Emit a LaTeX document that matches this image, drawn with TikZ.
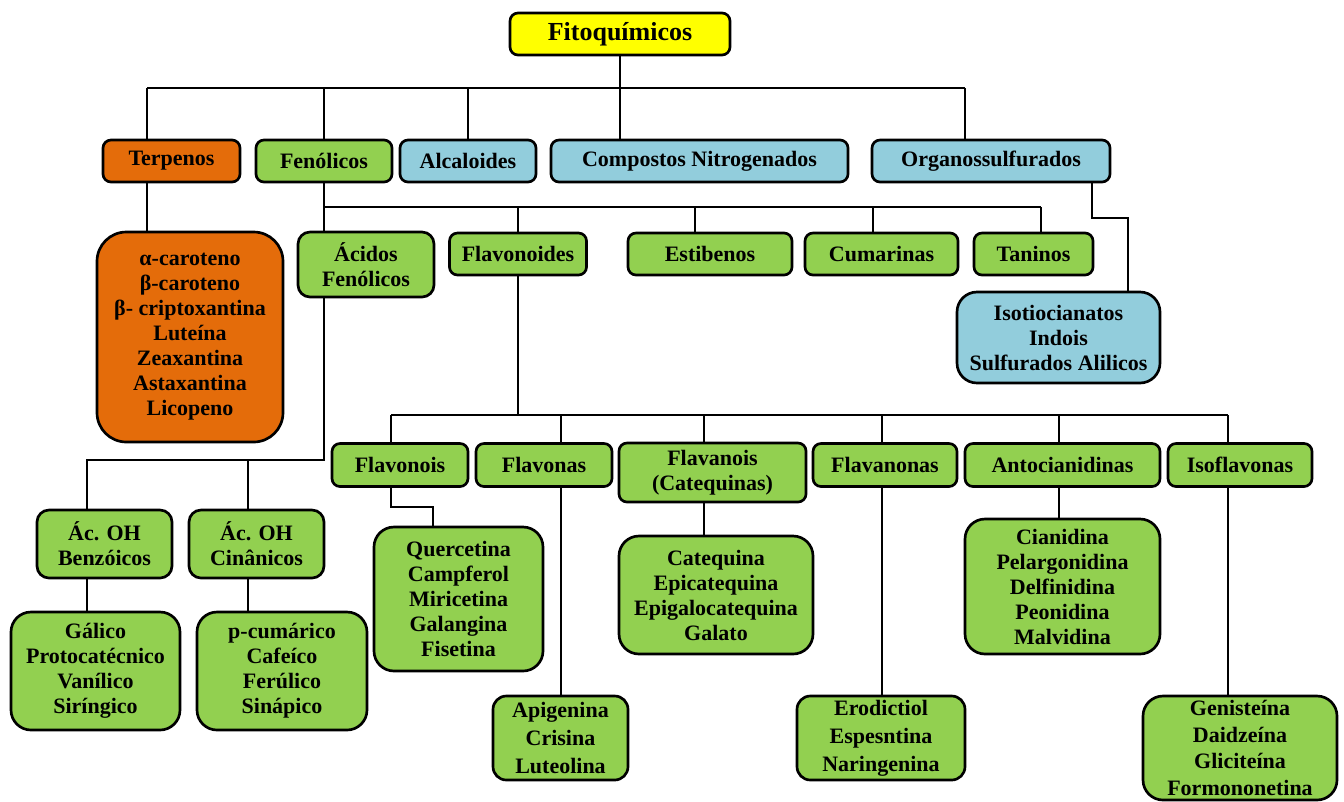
\documentclass[tikz,border=0pt]{standalone}
\usepackage{fontspec}
\setmainfont{Liberation Serif}
\definecolor{cyel}{HTML}{FFFF00}
\definecolor{corg}{HTML}{E46C0A}
\definecolor{cgrn}{HTML}{92D050}
\definecolor{cblu}{HTML}{92CDDC}
\begin{document}
\begin{tikzpicture}[x=0.75pt,y=-0.75pt,line width=2pt,
  box/.style={draw,rounded corners=6pt,align=center,inner sep=1pt,
    font=\fontsize{16.5}{18.75}\selectfont\bfseries},
  lst/.style={box,rounded corners=15pt},
  tall/.style={box,rounded corners=10pt,font=\fontsize{16.5}{21}\selectfont\bfseries},
  sz/.style 2 args={minimum width=#1*0.75pt,minimum height=#2*0.75pt}]
\useasboundingbox (0,0) rectangle (1344,801);
% level 0 and 1
\node[box,sz={220}{42},fill=cyel,font=\fontsize{19.5}{22}\selectfont\bfseries](root)at(620,34){Fitoquímicos};
\node[box,sz={137}{42},fill=corg](terp)at(171.5,161){Terpenos};
\node[box,sz={136}{42},fill=cgrn](fen)at(324,161){Fenólicos};
\node[box,sz={136}{42},fill=cblu](alc)at(468,161){Alcaloides};
\node[box,sz={297}{42},fill=cblu](comp)at(699.5,161){Compostos Nitrogenados};
\node[box,sz={238}{42},fill=cblu](org)at(991,161){Organossulfurados};
% level 2
\node[lst,rounded corners=22pt,sz={186}{210},fill=corg](carot)at(190,337)
  {α-caroteno\\β-caroteno\\β- criptoxantina\\Luteína\\Zeaxantina\\Astaxantina\\Licopeno};
\node[box,rounded corners=9pt,sz={136}{65},fill=cgrn](acid)at(366,264.5){Ácidos\\Fenólicos};
\node[box,sz={137}{42},fill=cgrn](flavd)at(518,254){Flavonoides};
\node[box,sz={164}{42},fill=cgrn](estib)at(710,254){Estibenos};
\node[box,sz={153}{42},fill=cgrn](cum)at(881.5,254){Cumarinas};
\node[box,sz={119}{42},fill=cgrn](tan)at(1033.5,254){Taninos};
\node[lst,sz={203}{91},fill=cblu](isot)at(1058.5,337.5){Isotiocianatos\\Indois\\Sulfurados Alilicos};
% flavonoides
\node[box,sz={136}{43},fill=cgrn](flvnl)at(400,465){Flavonois};
\node[box,sz={136}{43},fill=cgrn](flvna)at(544,465){Flavonas};
\node[box,sz={187}{59},fill=cgrn](flvnoi)at(712.5,472.5){Flavanois\\(Catequinas)};
\node[box,sz={144}{43},fill=cgrn](flvnon)at(885,465){Flavanonas};
\node[box,sz={195}{43},fill=cgrn](anto)at(1062.5,465){Antocianidinas};
\node[box,sz={144}{43},fill=cgrn](iso)at(1240,465){Isoflavonas};
\node[lst,sz={169}{144},fill=cgrn](querc)at(458.5,599){Quercetina\\Campferol\\Miricetina\\Galangina\\Fisetina};
\node[tall,sz={135}{84},fill=cgrn](apig)at(560.5,738){Apigenina\\Crisina\\Luteolina};
\node[lst,sz={194}{118},fill=cgrn](cateq)at(716,595){Catequina\\Epicatequina\\Epigalocatequina\\Galato};
\node[tall,sz={168}{84},fill=cgrn](erod)at(881,738){Erodictiol\\Espesntina\\Naringenina};
\node[lst,sz={195}{135},fill=cgrn](cian)at(1062.5,586.5){Cianidina\\Pelargonidina\\Delfinidina\\Peonidina\\Malvidina};
\node[tall,rounded corners=15pt,sz={194}{104},fill=cgrn,font=\fontsize{16.5}{20}\selectfont\bfseries](genis)at(1240,748){Genisteína\\Daidzeína\\Gliciteína\\Formononetina};
% acidos fenolicos
\node[box,rounded corners=9pt,sz={135}{68},fill=cgrn](benz)at(104.5,544){Ác. OH\\Benzóicos};
\node[box,rounded corners=9pt,sz={135}{68},fill=cgrn](cinn)at(256.5,544){Ác. OH\\Cinânicos};
\node[lst,sz={169}{118},fill=cgrn](galic)at(95.5,671){Gálico\\Protocatécnico\\Vanílico\\Siríngico};
\node[lst,sz={170}{118},fill=cgrn](pcum)at(282,671){p-cumárico\\Cafeíco\\Ferúlico\\Sinápico};
% junctions
\coordinate(j1)at(147,88);\coordinate(j5)at(965,88);
\coordinate(k2)at(695,207);\coordinate(k3)at(873,207);\coordinate(k4)at(1041,207);
\coordinate(o1)at(1092,218);\coordinate(o2)at(1128,218);
\coordinate(m1)at(391,415);\coordinate(m2)at(561,415);\coordinate(m3)at(704,415);
\coordinate(m4)at(882,415);\coordinate(m5)at(1059,415);\coordinate(m6)at(1228,415);
\coordinate(q1)at(391,507);\coordinate(q2)at(433,507);
\coordinate(a1)at(87,460);\coordinate(a2)at(248,460);
% connectors
\draw(j1)--(j5);
\draw(root.south)--(root.south|-comp.north);
\draw(j1)--(j1|-terp.north);
\draw(terp.south-|j1)--(j1|-carot.north);
\draw(fen.north)--(fen.north|-j1);
\draw(alc.north)--(alc.north|-j1);
\draw(j5)--(j5|-org.north);
\draw(org.south-|o1)--(o1)--(o2)--(o2|-isot.north);
\draw(fen.south)--(fen.south|-acid.north);
\draw(fen.south|-k4)--(k4);
\draw(flavd.north)--(flavd.north|-k4);
\foreach \c/\n in {k2/estib,k3/cum,k4/tan} \draw(\c)--(\c|-\n.north);
\draw(flavd.south)--(flavd.south|-m1);
\draw(m1)--(m6);
\foreach \c/\n in {m1/flvnl,m2/flvna,m3/flvnoi,m4/flvnon,m5/anto,m6/iso} \draw(\c)--(\c|-\n.north);
\draw(flvnl.south-|q1)--(q1)--(q2)--(q2|-querc.north);
\draw(flvna.south-|m2)--(m2|-apig.north);
\draw(flvnoi.south-|m3)--(m3|-cateq.north);
\draw(flvnon.south-|m4)--(m4|-erod.north);
\draw(anto.south-|m5)--(m5|-cian.north);
\draw(iso.south-|m6)--(m6|-genis.north);
\draw(acid.south-|fen.south)--(fen.south|-a1)--(a1)--(a1|-benz.north);
\draw(a2)--(a2|-cinn.north);
\draw(benz.south-|a1)--(a1|-galic.north);
\draw(cinn.south-|a2)--(a2|-pcum.north);
\end{tikzpicture}
\end{document}
